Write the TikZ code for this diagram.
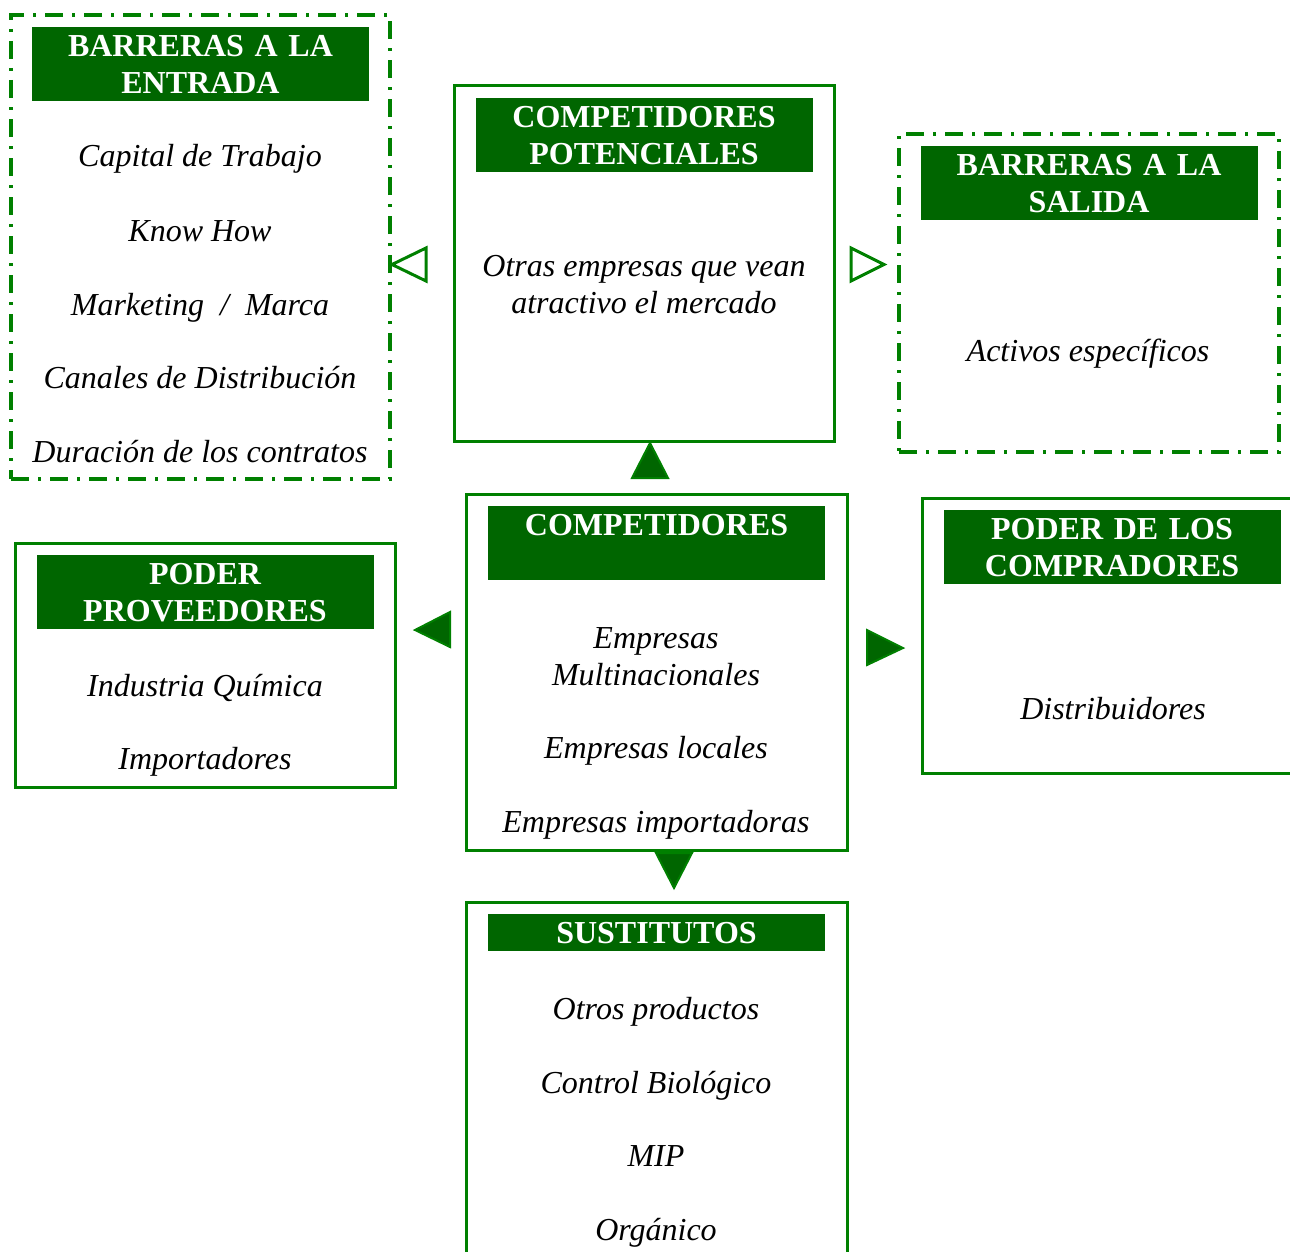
\documentclass[tikz,border=0pt]{standalone}
\usepackage{fontspec}
\setmainfont{Liberation Serif}
\usetikzlibrary{positioning}

\definecolor{hdrgreen}{RGB}{0,102,0}
\definecolor{linegreen}{RGB}{0,128,0}
\newcommand{\diagfont}{\fontsize{16}{18.5}\selectfont}

\tikzset{
    box/.style={draw=linegreen, line width=1.5pt, inner sep=0pt, outer sep=0pt},
    dashbox/.style={box, line width=1.7pt, dash pattern=on 9pt off 4.5pt on 1.5pt off 4.5pt},
    header/.style={fill=hdrgreen, text=white, font=\diagfont\bfseries, align=center,
        minimum width=168.5pt, minimum height=37pt, inner sep=0pt,
        text width=168.5pt, below=6pt of #1.north},
    item/.style={font=\diagfont\itshape, align=center, inner sep=0pt},
    oneline/.style={item, text height=14.5pt, text depth=3.5pt},
    solidtri/.style={fill=hdrgreen, draw=linegreen, line width=1pt, line join=miter},
    opentri/.style={draw=linegreen, line width=1.5pt, line join=miter}
}

\begin{document}
\begin{tikzpicture}[x=0.5pt, y=-0.5pt, font=\diagfont]
    \useasboundingbox (0,0) rectangle (1290,1252);
    \clip (0,0) rectangle (1290,1252);

    % barreras a la entrada
    \node[dashbox, minimum width=189.5pt, minimum height=232pt] (entrada) at (200.5,247) {};
    \node[header=entrada] (entrada-h) {BARRERAS A LA\\ENTRADA};
    \foreach \y/\t [count=\i] in {156/Capital de Trabajo, 230/Know How,
        304/{Marketing~~/~~Marca}, 377/Canales de Distribución, 451/Duración de los contratos} {
        \node[oneline] (entrada-\i) at (200,\y) {\t};
    }

    % competidores potenciales
    \node[box, minimum width=190pt, minimum height=177.5pt] (potenciales) at (644,263.5) {};
    \node[header=potenciales] (potenciales-h) {COMPETIDORES\\POTENCIALES};
    \node[item] (potenciales-1) at (644,285) {Otras empresas que vean\\atractivo el mercado};

    % barreras a la salida
    \node[dashbox, minimum width=190pt, minimum height=159pt] (salida) at (1089,293) {};
    \node[header=salida] (salida-h) {BARRERAS A LA\\SALIDA};
    \node[oneline] (salida-1) at (1088,350) {Activos específicos};

    % competidores
    \node[box, minimum width=190.5pt, minimum height=178pt] (competidores) at (656.5,672) {};
    \node[header=competidores] (competidores-h) {COMPETIDORES\\~};
    \node[item] (competidores-1) at (656,657) {Empresas\\Multinacionales};
    \foreach \y/\t [count=\i from 2] in {747/Empresas locales, 821/Empresas importadoras} {
        \node[oneline] (competidores-\i) at (656,\y) {\t};
    }

    % poder proveedores
    \node[box, minimum width=190pt, minimum height=122pt] (proveedores) at (205,665) {};
    \node[header=proveedores] (proveedores-h) {PODER\\PROVEEDORES};
    \foreach \y/\t [count=\i] in {685/Industria Química, 758/Importadores} {
        \node[oneline] (proveedores-\i) at (205,\y) {\t};
    }

    % poder de los compradores
    \node[box, minimum width=190pt, minimum height=137.5pt] (compradores) at (1112,635.5) {};
    \node[header=compradores] (compradores-h) {PODER DE LOS\\COMPRADORES};
    \node[oneline] (compradores-1) at (1113,708) {Distribuidores};

    % sustitutos
    \node[box, minimum width=190.5pt, minimum height=180pt] (sustitutos) at (656.5,1082) {};
    \node[header=sustitutos, minimum height=18.5pt] (sustitutos-h) {SUSTITUTOS};
    \foreach \y/\t [count=\i] in {1008/Otros productos, 1082/Control Biológico,
        1155/MIP, 1229/Orgánico} {
        \node[oneline] (sustitutos-\i) at (656,\y) {\t};
    }

    % flechas
    \draw[opentri] (426,248) -- (392,264.5) -- (426,281) -- cycle;
    \draw[opentri] (851,248) -- (884,264.5) -- (851,281) -- cycle;
    \filldraw[solidtri] (632,478) -- (650,443) -- (668,478) -- cycle;
    \filldraw[solidtri] (450,612) -- (415,630) -- (450,647) -- cycle;
    \filldraw[solidtri] (867,630) -- (903,648) -- (867,665) -- cycle;
    \filldraw[solidtri] (656,853) -- (674,888) -- (692,853) -- cycle;
\end{tikzpicture}
\end{document}
